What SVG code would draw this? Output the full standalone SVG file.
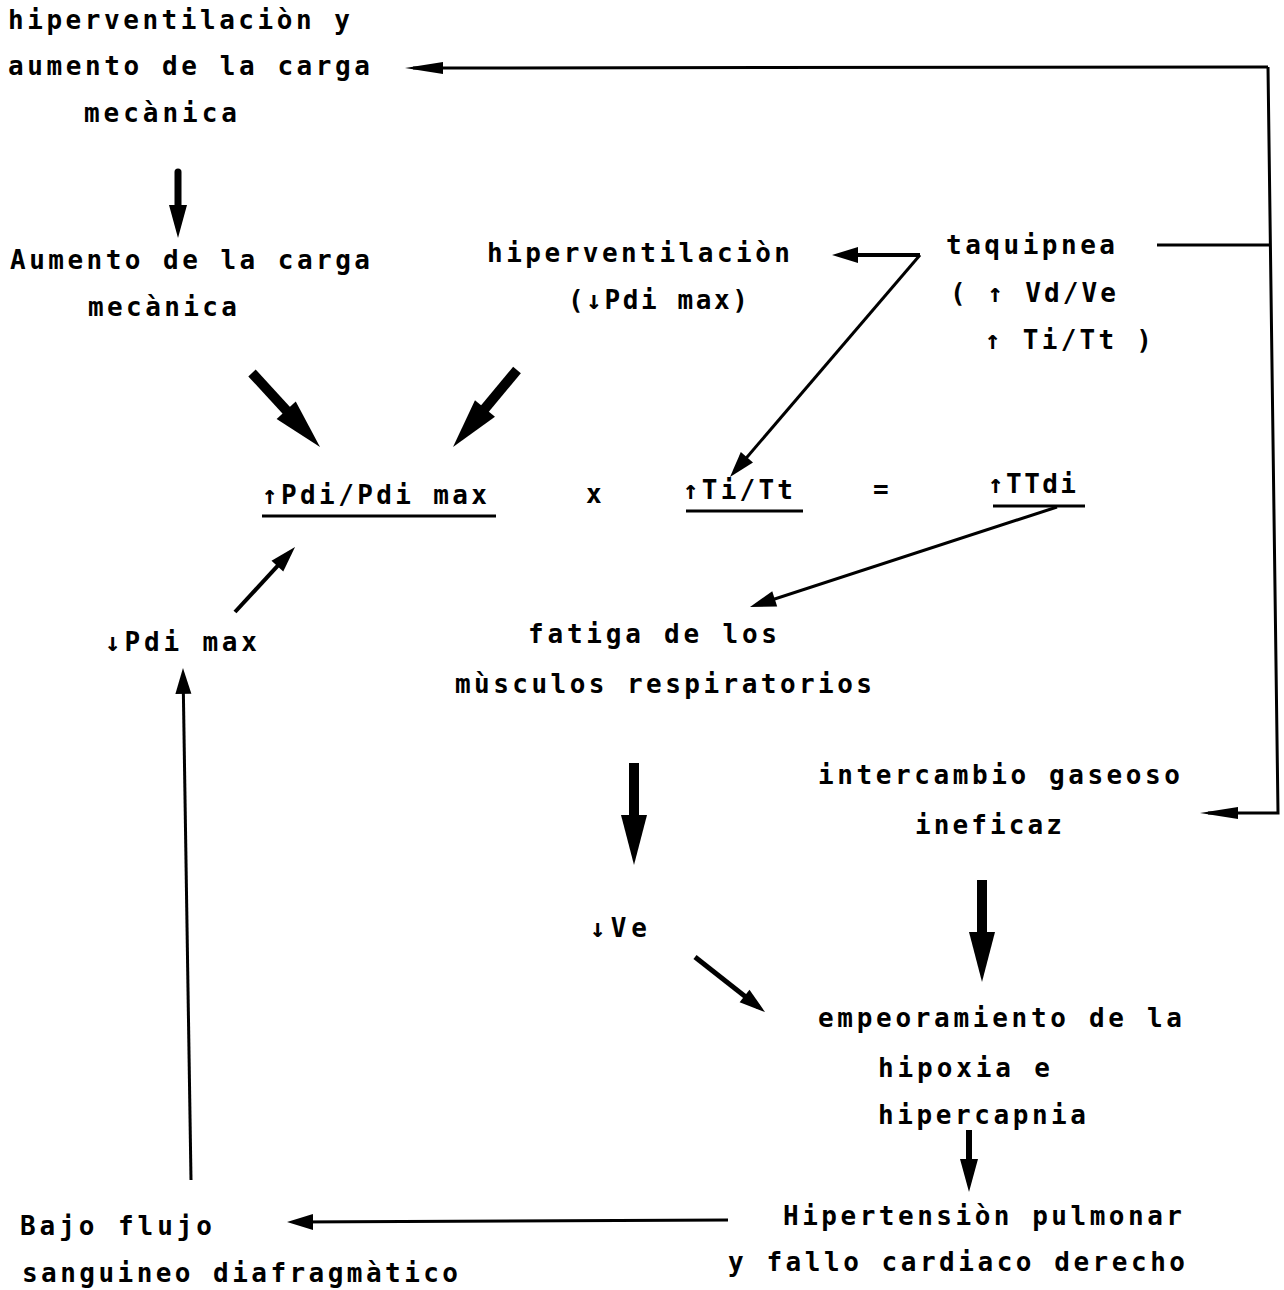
<svg xmlns="http://www.w3.org/2000/svg" width="1284" height="1290" viewBox="0 0 1284 1290">
<style>
text{font-family:"DejaVu Sans Mono","Liberation Mono",monospace;font-weight:bold;font-size:26px;fill:#000;white-space:pre}
.c{fill:none;stroke:#000}
.t{stroke-width:3}
.k{stroke-width:10}
</style>
<defs>
<marker id="hL" markerUnits="userSpaceOnUse" orient="auto" refX="0" refY="0" markerWidth="60" markerHeight="30" viewBox="-30 -15 60 30" overflow="visible"><path d="M-25,-13 L25,0 L-25,13 z" fill="#000"/></marker>
<marker id="hM" markerUnits="userSpaceOnUse" orient="auto" refX="0" refY="0" markerWidth="40" markerHeight="20" viewBox="-20 -10 40 20" overflow="visible"><path d="M-17,-9 L16,0 L-17,9 z" fill="#000"/></marker>
<marker id="hS" markerUnits="userSpaceOnUse" orient="auto" refX="0" refY="0" markerWidth="30" markerHeight="20" viewBox="-20 -10 30 20" overflow="visible"><path d="M-18,-8 L8,0 L-18,8 z" fill="#000"/></marker>
<marker id="hN" markerUnits="userSpaceOnUse" orient="auto" refX="0" refY="0" markerWidth="40" markerHeight="14" viewBox="-32 -7 40 14" overflow="visible"><path d="M-30,-6 L8,0 L-30,6 z" fill="#000"/></marker>
</defs>

<g id="connectors">
<path class="c t" d="M1157,245 L1271,245"/>
<path class="c t" d="M1268,67 L413,68" marker-end="url(#hN)"/>
<path class="c t" d="M1268,67 L1278,813 L1208,813" marker-end="url(#hN)"/>
<path class="c" stroke-width="7" stroke-linecap="round" d="M178,172 L178,222" marker-end="url(#hM)"/>
<path class="c" stroke-width="4" d="M920,255 L840,255" marker-end="url(#hS)"/>
<path class="c t" d="M920,255 L735.2,470.9" marker-end="url(#hS)"/>
<path class="c k" d="M252,373 L303.1,428.6" marker-end="url(#hL)"/>
<path class="c k" d="M517,370 L469,427.8" marker-end="url(#hL)"/>
<path class="c t" d="M1057,507 L757.6,604.5" marker-end="url(#hS)"/>
<path class="c" stroke-width="4" d="M235,612 L289.6,552.9" marker-end="url(#hS)"/>
<path class="c k" d="M634,763 L634,840" marker-end="url(#hL)"/>
<path class="c k" d="M982,880 L982,957" marker-end="url(#hL)"/>
<path class="c" stroke-width="5" d="M695,957 L758.7,1007.1" marker-end="url(#hS)"/>
<path class="c" stroke-width="6" d="M969,1130 L969,1176" marker-end="url(#hM)"/>
<path class="c t" d="M728,1220 L295,1222" marker-end="url(#hS)"/>
<path class="c t" d="M191,1180 L183.1,676" marker-end="url(#hS)"/>
</g>

<g id="n-hiper-top">
<text x="8" y="29" textLength="342" lengthAdjust="spacing">hiperventilaciòn y</text>
<text x="8" y="75" textLength="362" lengthAdjust="spacing">aumento de la carga</text>
<text x="84" y="122" textLength="153" lengthAdjust="spacing">mecànica</text>
</g>
<g id="n-aumento">
<text x="10" y="269" textLength="360" lengthAdjust="spacing">Aumento de la carga</text>
<text x="88" y="316" textLength="149" lengthAdjust="spacing">mecànica</text>
</g>
<g id="n-hiper-mid">
<text x="487" y="262" textLength="303" lengthAdjust="spacing">hiperventilaciòn</text>
<text x="568" y="309" textLength="180" lengthAdjust="spacing">(↓Pdi max)</text>
</g>
<g id="n-taquipnea">
<text x="946" y="254" textLength="169" lengthAdjust="spacing">taquipnea</text>
<text x="950" y="302" textLength="166" lengthAdjust="spacing">( ↑ Vd/Ve</text>
<text x="985" y="349" textLength="167" lengthAdjust="spacing">↑ Ti/Tt )</text>
</g>
<g id="n-pdi">
<text x="262" y="504" textLength="225" lengthAdjust="spacing">↑Pdi/Pdi max</text>
<line class="c t" x1="262" y1="516" x2="496" y2="516"/>
</g>
<g id="n-x"><text x="586" y="503">x</text></g>
<g id="n-titt">
<text x="683" y="499" textLength="110" lengthAdjust="spacing">↑Ti/Tt</text>
<line class="c t" x1="686" y1="511" x2="803" y2="511"/>
</g>
<g id="n-eq"><text x="873" y="498">=</text></g>
<g id="n-ttdi">
<text x="988" y="493" textLength="88" lengthAdjust="spacing">↑TTdi</text>
<line class="c t" x1="993" y1="506" x2="1085" y2="506"/>
</g>
<g id="n-pdimax">
<text x="105" y="651" textLength="152" lengthAdjust="spacing">↓Pdi max</text>
</g>
<g id="n-fatiga">
<text x="528" y="643" textLength="249" lengthAdjust="spacing">fatiga de los</text>
<text x="455" y="693" textLength="417" lengthAdjust="spacing">mùsculos respiratorios</text>
</g>
<g id="n-intercambio">
<text x="818" y="784" textLength="362" lengthAdjust="spacing">intercambio gaseoso</text>
<text x="915" y="834" textLength="147" lengthAdjust="spacing">ineficaz</text>
</g>
<g id="n-ve">
<text x="590" y="937" textLength="57" lengthAdjust="spacing">↓Ve</text>
</g>
<g id="n-empeoramiento">
<text x="818" y="1027" textLength="364" lengthAdjust="spacing">empeoramiento de la</text>
<text x="878" y="1077" textLength="172" lengthAdjust="spacing">hipoxia e</text>
<text x="878" y="1124" textLength="208" lengthAdjust="spacing">hipercapnia</text>
</g>
<g id="n-hipertension">
<text x="783" y="1225" textLength="399" lengthAdjust="spacing">Hipertensiòn pulmonar</text>
<text x="728" y="1271" textLength="457" lengthAdjust="spacing">y fallo cardiaco derecho</text>
</g>
<g id="n-bajo">
<text x="20" y="1235" textLength="192" lengthAdjust="spacing">Bajo flujo</text>
<text x="22" y="1282" textLength="436" lengthAdjust="spacing">sanguineo diafragmàtico</text>
</g>
</svg>
